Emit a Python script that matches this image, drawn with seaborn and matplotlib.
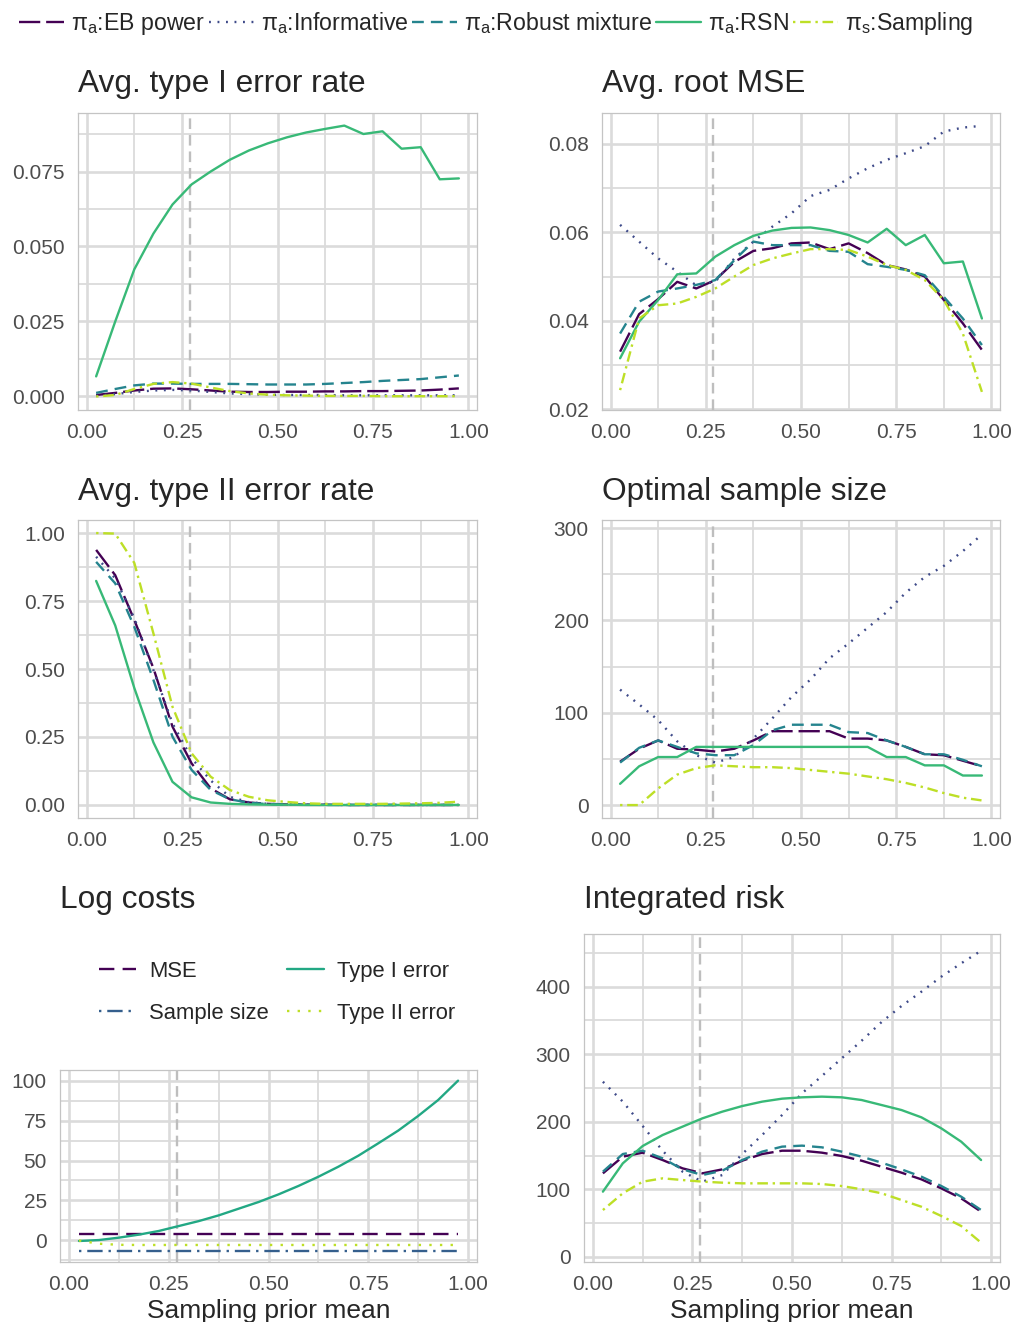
import numpy as np
import pandas as pd
import matplotlib
matplotlib.use("Agg")
import matplotlib.pyplot as plt
from matplotlib.lines import Line2D
import seaborn as sns

# x grid (sampling prior mean) and the design prior mean marked by the dashed line
prior_mean = [0.025, 0.075, 0.125, 0.175, 0.225, 0.275, 0.325, 0.375, 0.425, 0.475,
              0.525, 0.575, 0.625, 0.675, 0.725, 0.775, 0.825, 0.875, 0.925, 0.975]
design_mean = 0.27

methods = ["EB power", "Informative", "Robust mixture", "RSN", "Sampling"]

# Avg. type I error rate
t1_eb = [0.0005, 0.0012, 0.0020, 0.0026, 0.0027, 0.0024, 0.0020, 0.0016, 0.0015, 0.0015,
         0.0016, 0.0016, 0.0017, 0.0017, 0.0018, 0.0018, 0.0019, 0.0020, 0.0023, 0.0027]
t1_inf = [0.0002, 0.0008, 0.0015, 0.0020, 0.0022, 0.0020, 0.0015, 0.0010, 0.0008, 0.0006,
          0.0005, 0.0005, 0.0005, 0.0004, 0.0004, 0.0004, 0.0004, 0.0004, 0.0004, 0.0004]
t1_rob = [0.0012, 0.0025, 0.0037, 0.0043, 0.0043, 0.0042, 0.0042, 0.0042, 0.0041, 0.0040,
          0.0040, 0.0040, 0.0042, 0.0045, 0.0048, 0.0052, 0.0055, 0.0058, 0.0064, 0.0070]
t1_rsn = [0.0067, 0.0250, 0.0424, 0.0543, 0.0640, 0.0707, 0.0750, 0.0789, 0.0820, 0.0844,
          0.0864, 0.0880, 0.0892, 0.0903, 0.0875, 0.0884, 0.0826, 0.0831, 0.0724, 0.0727]
t1_smp = [0.0000, 0.0005, 0.0025, 0.0042, 0.0048, 0.0043, 0.0030, 0.0018, 0.0010, 0.0006,
          0.0004, 0.0003, 0.0002, 0.0002, 0.0002, 0.0001, 0.0001, 0.0001, 0.0001, 0.0001]

# Avg. root MSE
rmse_eb = [0.0330, 0.0415, 0.0449, 0.0488, 0.0473, 0.0492, 0.0533, 0.0558, 0.0564, 0.0575,
           0.0577, 0.0562, 0.0575, 0.0553, 0.0526, 0.0516, 0.0500, 0.0447, 0.0394, 0.0334]
rmse_inf = [0.0617, 0.0579, 0.0541, 0.0511, 0.0480, 0.0488, 0.0541, 0.0579, 0.0613, 0.0643,
            0.0682, 0.0696, 0.0722, 0.0745, 0.0764, 0.0779, 0.0795, 0.0828, 0.0837, 0.0841]
rmse_rob = [0.0371, 0.0443, 0.0466, 0.0473, 0.0481, 0.0492, 0.0537, 0.0579, 0.0571, 0.0571,
            0.0571, 0.0558, 0.0556, 0.0528, 0.0522, 0.0515, 0.0503, 0.0454, 0.0405, 0.0345]
rmse_rsn = [0.0315, 0.0398, 0.0447, 0.0505, 0.0507, 0.0545, 0.0571, 0.0592, 0.0604, 0.0610,
            0.0611, 0.0605, 0.0594, 0.0577, 0.0608, 0.0571, 0.0594, 0.0530, 0.0534, 0.0405]
rmse_smp = [0.0243, 0.0405, 0.0435, 0.0439, 0.0454, 0.0473, 0.0500, 0.0526, 0.0541, 0.0552,
            0.0562, 0.0562, 0.0560, 0.0545, 0.0526, 0.0515, 0.0492, 0.0447, 0.0371, 0.0239]

# Avg. type II error rate
t2_eb = [0.938, 0.845, 0.680, 0.503, 0.288, 0.153, 0.061, 0.021, 0.009, 0.004,
         0.002, 0.001, 0.001, 0.000, 0.000, 0.000, 0.000, 0.000, 0.000, 0.000]
t2_inf = [0.913, 0.833, 0.687, 0.496, 0.300, 0.172, 0.090, 0.030, 0.010, 0.004,
          0.002, 0.001, 0.001, 0.000, 0.000, 0.000, 0.000, 0.000, 0.000, 0.000]
t2_rob = [0.894, 0.815, 0.655, 0.460, 0.251, 0.129, 0.055, 0.021, 0.008, 0.003,
          0.001, 0.001, 0.000, 0.000, 0.000, 0.000, 0.000, 0.000, 0.000, 0.000]
t2_rsn = [0.824, 0.660, 0.430, 0.230, 0.085, 0.028, 0.009, 0.004, 0.002, 0.001,
          0.001, 0.000, 0.000, 0.000, 0.000, 0.000, 0.000, 0.000, 0.000, 0.000]
t2_smp = [1.000, 0.998, 0.890, 0.631, 0.361, 0.190, 0.104, 0.055, 0.030, 0.017,
          0.011, 0.006, 0.004, 0.004, 0.004, 0.004, 0.005, 0.006, 0.008, 0.012]

# Optimal sample size
n_eb = [47, 61, 70, 61, 60, 58, 61, 70, 80, 80, 80, 80, 72, 72, 70, 63, 55, 54, 48, 42]
n_inf = [125, 109, 92, 69, 54, 46, 52, 72, 94, 117, 136, 159, 175, 192, 209, 230, 247, 259, 275, 293]
n_rob = [46, 62, 70, 63, 56, 54, 54, 65, 81, 87, 87, 87, 79, 78, 70, 63, 55, 55, 49, 42]
n_rsn = [23, 42, 52, 52, 63, 63, 63, 63, 63, 63, 63, 63, 63, 63, 52, 52, 43, 43, 32, 32]
n_smp = [0, 0, 18, 33, 40, 43, 42, 41, 41, 40, 38, 36, 34, 31, 28, 24, 19, 13, 8, 5]

# Integrated risk
r_eb = [123.8, 148.5, 154.4, 143.5, 131.2, 123.8, 129.7, 142.5, 152.4, 157.3,
        157.3, 154.4, 149.5, 142.5, 133.6, 124.8, 114.9, 101.6, 86.8, 67.1]
r_inf = [259.4, 229.9, 193.8, 157.3, 126.3, 111.5, 121.3, 152.4, 180.5, 210.1,
         242.2, 267.8, 294.0, 320.1, 347.7, 371.4, 392.6, 414.8, 434.6, 453.2]
r_rob = [126.3, 152.4, 157.3, 146.0, 129.7, 121.3, 127.7, 143.5, 155.9, 163.3,
         164.8, 162.3, 155.9, 148.5, 139.6, 129.7, 118.9, 105.1, 89.3, 69.5]
r_rsn = [96.7, 138.6, 164.3, 180.5, 192.9, 205.2, 215.1, 223.4, 229.9, 234.3,
         236.3, 237.3, 236.3, 232.3, 224.9, 217.5, 206.7, 190.4, 170.7, 143.5]
r_smp = [69.5, 94.3, 111.5, 116.4, 113.9, 111.5, 110.0, 109.0, 109.0, 109.0,
         109.0, 108.0, 105.0, 100.2, 94.3, 84.3, 74.4, 60.7, 45.9, 21.2]

# Log costs
cost_terms = ["MSE", "Sample size", "Type I error", "Type II error"]
log_mse = [3.5, 3.5, 3.5, 3.5, 3.5, 3.5, 3.5, 3.5, 3.5, 3.5,
           3.5, 3.5, 3.5, 3.5, 3.5, 3.5, 3.5, 3.5, 3.5, 3.5]
log_ss = [-6.7, -6.7, -6.7, -6.7, -6.7, -6.7, -6.7, -6.7, -6.7, -6.7,
          -6.7, -6.7, -6.7, -6.7, -6.7, -6.7, -6.7, -6.7, -6.7, -6.7]
log_t1 = [-0.6, 0.0, 1.5, 3.4, 5.7, 8.8, 11.9, 15.5, 19.7, 23.9,
          28.7, 34.0, 39.8, 46.1, 53.0, 60.8, 68.8, 78.0, 88.0, 100.2]
log_t2 = [-0.3, -2.3, -3.0, -3.1, -3.1, -3.1, -3.1, -3.1, -3.1, -3.1,
          -3.1, -3.1, -3.1, -3.1, -3.1, -3.1, -3.1, -3.1, -3.1, -3.1]

# long format tables
series = {
    "t1": [t1_eb, t1_inf, t1_rob, t1_rsn, t1_smp],
    "rmse": [rmse_eb, rmse_inf, rmse_rob, rmse_rsn, rmse_smp],
    "t2": [t2_eb, t2_inf, t2_rob, t2_rsn, t2_smp],
    "n": [n_eb, n_inf, n_rob, n_rsn, n_smp],
    "risk": [r_eb, r_inf, r_rob, r_rsn, r_smp],
}
rows = []
for metric, vals in series.items():
    for m, v in zip(methods, vals):
        for xi, yi in zip(prior_mean, v):
            rows.append((metric, m, xi, yi))
df = pd.DataFrame(rows, columns=["metric", "method", "x", "value"])

cost_rows = []
for term, v in zip(cost_terms, [log_mse, log_ss, log_t1, log_t2]):
    for xi, yi in zip(prior_mean, v):
        cost_rows.append((term, xi, yi))
costs = pd.DataFrame(cost_rows, columns=["term", "x", "value"])

sns.set_style("white")
plt.rcParams["font.family"] = ["Liberation Sans", "DejaVu Sans"]
plt.rcParams["mathtext.fontset"] = "custom"
plt.rcParams["mathtext.rm"] = "Liberation Sans"

vir = matplotlib.colormaps["viridis"]
method_pal = dict(zip(methods, [vir(v) for v in np.linspace(0, 0.9, 5)]))
method_dash = {"EB power": (9, 2.5), "Informative": (0.8, 2.8), "Robust mixture": (5, 3),
               "RSN": "", "Sampling": (1, 2, 4.5, 2)}
cost_pal = dict(zip(cost_terms, [vir(v) for v in np.linspace(0, 0.9, 4)]))
cost_dash = {"MSE": (6.5, 3.5), "Sample size": (1, 2.5, 6.5, 2.5), "Type I error": "",
             "Type II error": (1, 3.5)}

W, H = 1014, 1322
fig = plt.figure(figsize=(W / 100, H / 100), dpi=100)


def rect(l, r, t, b):
    return [l / W, 1 - b / H, (r - l) / W, (b - t) / H]


GRID = "#DBDBDB"
LW = 1.7


def style(ax, ylim, yticks, ylabels, yminor):
    ax.set_xlim(-0.0225, 1.0225)
    ax.set_ylim(*ylim)
    ax.set_xticks([0, 0.25, 0.5, 0.75, 1.0])
    ax.set_xticklabels(["0.00", "0.25", "0.50", "0.75", "1.00"])
    ax.set_xticks([0.125, 0.375, 0.625, 0.875], minor=True)
    ax.set_yticks(yticks)
    ax.set_yticklabels(ylabels)
    ax.set_yticks(yminor, minor=True)
    ax.grid(which="major", color=GRID, lw=1.9)
    ax.grid(which="minor", color=GRID, lw=1.3)
    ax.set_axisbelow(True)
    ax.tick_params(which="minor", length=0)
    ax.tick_params(which="major", length=7, width=1.0, color="#B3B3B3",
                   labelsize=15, labelcolor="#4D4D4D", pad=2.5)
    for s in ax.spines.values():
        s.set_color("#C4C4C4")
        s.set_linewidth(0.9)
    ax.axvline(design_mean, color="#BEBEBE", lw=LW, dashes=(4.5, 2.5), zorder=1.5)
    ax.set_xlabel("")
    ax.set_ylabel("")


def method_panel(ax, metric):
    sns.lineplot(data=df[df.metric == metric], x="x", y="value", hue="method",
                 style="method", hue_order=methods, style_order=methods,
                 palette=method_pal, dashes=method_dash, linewidth=LW,
                 legend=False, ax=ax, zorder=3)


panels = {
    "t1": (rect(78, 477, 113, 410), "Avg. type I error rate", 92,
           (-0.0045, 0.0945), [0, 0.025, 0.05, 0.075], ["0.000", "0.025", "0.050", "0.075"],
           [0.0125, 0.0375, 0.0625, 0.0875]),
    "rmse": (rect(602, 1000, 113, 410), "Avg. root MSE", 92,
             (0.0198, 0.087), [0.02, 0.04, 0.06, 0.08], ["0.02", "0.04", "0.06", "0.08"],
             [0.03, 0.05, 0.07]),
    "t2": (rect(78, 477, 520, 818), "Avg. type II error rate", 500,
           (-0.048, 1.048), [0, 0.25, 0.5, 0.75, 1.0], ["0.00", "0.25", "0.50", "0.75", "1.00"],
           [0.125, 0.375, 0.625, 0.875]),
    "n": (rect(602, 1000, 520, 818), "Optimal sample size", 500,
          (-14, 308.7), [0, 100, 200, 300], ["0", "100", "200", "300"], [50, 150, 250]),
    "risk": (rect(584, 1000, 934, 1262), "Integrated risk", 908,
             (-7.4, 478), [0, 100, 200, 300, 400], ["0", "100", "200", "300", "400"],
             [50, 150, 250, 350, 450]),
}

TITLE = 22.8

for metric, (r, title, base, ylim, yt, yl, ym) in panels.items():
    ax = fig.add_axes(r)
    method_panel(ax, metric)
    style(ax, ylim, yt, yl, ym)
    fig.text(r[0], 1 - base / H, title, fontsize=TITLE, va="baseline", ha="left")
    if metric == "risk":
        fig.text(r[0] + r[2] / 2, 1 - 1318 / H, "Sampling prior mean", fontsize=19,
                 ha="center", va="baseline")

# log costs panel
r5 = rect(60, 477, 1070, 1262)
ax5 = fig.add_axes(r5)
sns.lineplot(data=costs, x="x", y="value", hue="term", style="term",
             hue_order=cost_terms, style_order=cost_terms, palette=cost_pal,
             dashes=cost_dash, linewidth=LW, legend=False, ax=ax5, zorder=3)
style(ax5, (-13.8, 106.9), [0, 25, 50, 75, 100], ["0", "25", "50", "75", "100"],
      [-12.5, 12.5, 37.5, 62.5, 87.5])
fig.text(r5[0], 1 - 908 / H, "Log costs", fontsize=TITLE, va="baseline", ha="left")
fig.text(r5[0] + r5[2] / 2, 1 - 1318 / H, "Sampling prior mean", fontsize=19,
         ha="center", va="baseline")

cost_handles = []
for t in cost_terms:
    h = Line2D([], [], color=cost_pal[t], lw=LW)
    if cost_dash[t]:
        h.set_dashes(cost_dash[t])
    cost_handles.append(h)
fig.legend(cost_handles, cost_terms, loc="upper left", bbox_to_anchor=(79 / W, 1 - 941 / H),
           ncol=2, frameon=False, fontsize=15.8, handlelength=1.7, handletextpad=0.6,
           columnspacing=0.8, labelspacing=0.95)

# top legend
labels = ["π$_\\mathregular{a}$:EB power", "π$_\\mathregular{a}$:Informative",
          "π$_\\mathregular{a}$:Robust mixture", "π$_\\mathregular{a}$:RSN",
          "π$_\\mathregular{s}$:Sampling"]
handles = []
for m in methods:
    h = Line2D([], [], color=method_pal[m], lw=LW)
    if method_dash[m]:
        h.set_dashes(method_dash[m])
    handles.append(h)
fig.legend(handles, labels, loc="upper left", bbox_to_anchor=(-2 / W, 1 + 11 / H), ncol=5,
           frameon=False, fontsize=16.7, handlelength=1.95, handletextpad=0.3,
           columnspacing=0.15)

fig.savefig("out.png", dpi=100, facecolor="white")
